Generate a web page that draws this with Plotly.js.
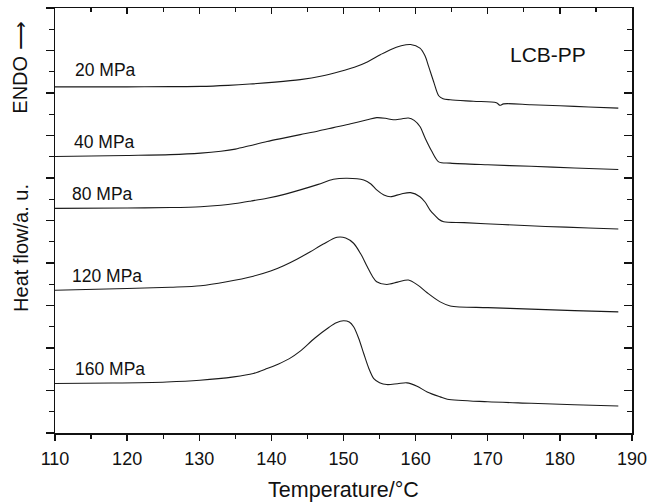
<!DOCTYPE html>
<html>
<head>
<meta charset="utf-8">
<script src="https://cdn.plot.ly/plotly-3.0.1.min.js"></script>
<style>html,body{margin:0;padding:0;background:#fff;}#chart{width:648px;height:504px;}</style>
</head>
<body>
<div id="chart"></div>
<script>
// Temperature (°C) and heat flow (a.u., curves stacked with offsets as in the figure)
const t20  = [110,120,126,130.2,134,137,140.5,144,147,149.5,151.5,153.3,155.1,156.5,158,159.3,160.6,161.3,161.8,162.5,163.2,163.8,164.8,168,171.2,171.7,172.2,176,180,184,188.1];
const hf20 = [16.29,16.29,16.30,16.31,16.36,16.42,16.51,16.63,16.80,17.01,17.21,17.46,17.80,18.04,18.22,18.28,18.11,17.75,17.25,16.53,15.87,15.73,15.68,15.61,15.54,15.42,15.49,15.45,15.40,15.34,15.29];

const t40  = [110,120,126,130.2,133,135,137,139.4,142,144,146.5,148.6,151,153.3,154.6,155.8,156.9,158,159.0,159.8,160.6,161.3,162.2,163.2,164.8,170,176,182,188.1];
const hf40 = [13.01,13.06,13.10,13.17,13.26,13.36,13.52,13.72,13.90,14.04,14.21,14.37,14.55,14.74,14.84,14.81,14.74,14.78,14.82,14.71,14.42,13.89,13.28,12.76,12.70,12.62,12.55,12.47,12.40];

const t80  = [110,120,126,130.2,133,135,137.2,139.4,141.8,144,146.5,148.6,150.5,152.8,153.8,154.6,155.6,156.5,158,159.3,160.6,161.3,162.0,162.6,163.2,163.9,166.7,172,178,184,188.1];
const hf80 = [10.57,10.59,10.61,10.65,10.72,10.80,10.92,11.05,11.23,11.44,11.70,11.94,11.99,11.91,11.72,11.44,11.20,11.12,11.25,11.31,11.12,10.87,10.49,10.26,10.06,9.94,9.90,9.81,9.72,9.65,9.60];

const t120  = [110,120,126,130.2,133.8,137.5,139.9,141.7,143.6,145.4,147.2,149.1,150.3,151.4,152.4,153.3,154.0,154.6,156.0,157.5,159.0,160.3,161.6,163.4,164.8,170,176,182,188.1];
const hf120 = [6.72,6.80,6.86,6.93,7.12,7.38,7.62,7.87,8.19,8.53,8.89,9.21,9.18,8.93,8.42,7.82,7.38,7.12,6.99,7.10,7.20,6.96,6.60,6.17,5.98,5.90,5.83,5.76,5.70];

const t160  = [110,118,125.5,130.1,134.8,137.5,139.4,141,142.5,144,146,148,149,150.0,150.8,151.4,152.1,152.8,153.5,154.2,155,156.0,157.5,158.8,160.2,161.6,163.4,164.4,170,176,182,188.1];
const hf160 = [2.33,2.35,2.40,2.48,2.64,2.80,3.03,3.25,3.50,3.85,4.46,4.98,5.19,5.28,5.22,5.00,4.46,3.74,3.05,2.56,2.37,2.28,2.32,2.36,2.20,1.93,1.70,1.59,1.47,1.40,1.33,1.27];

const labels = ['20 MPa','40 MPa','80 MPa','120 MPa','160 MPa'];
const labelX = [112.5,112.4,112.1,112.1,112.5];
const labelY = [17.09,13.71,11.25,7.38,2.99];

const xTickVals = [110,120,130,140,150,160,170,180,190];
const xTickText = ['110','120','130','140','150','160','170','180','190'];

const FONT = 'Liberation Sans, Arial, sans-serif';
const lineStyle = {color:'#1a1a1a', width:1.1, shape:'spline', smoothing:0.85};

const series = [[t20,hf20],[t40,hf40],[t80,hf80],[t120,hf120],[t160,hf160]];
const traces = series.map((s,i)=>({
  x:s[0], y:s[1], type:'scatter', mode:'lines', line:lineStyle,
  name:labels[i], showlegend:false, hoverinfo:'skip',
  xaxis: i===4 ? 'x2' : 'x', yaxis: i===4 ? 'y2' : 'y'
}));

const annotations = labels.map((l,i)=>({
  x:labelX[i], y:labelY[i], xref:'x', yref:'y', text:l, showarrow:false,
  xanchor:'left', yanchor:'middle', font:{family:FONT, size:17.5, color:'#111'}
}));
annotations.push({x:178.3, y:17.81, xref:'x', yref:'y', text:'LCB-PP', showarrow:false,
  xanchor:'center', yanchor:'middle', font:{family:FONT, size:21, color:'#111'}});
annotations.push({x:-0.060, y:0.4364, xref:'paper', yref:'paper', text:'Heat flow/a. u.', showarrow:false,
  textangle:-90, xanchor:'center', yanchor:'middle', font:{family:FONT, size:20, color:'#111'}});
annotations.push({x:-0.060, y:0.8605, xref:'paper', yref:'paper', text:'ENDO \u27F6', showarrow:false,
  textangle:-90, xanchor:'center', yanchor:'middle', font:{family:FONT, size:20, color:'#111'}});

const layout = {
  width:648, height:504,
  margin:{l:55, r:16, t:8, b:71},
  paper_bgcolor:'#fff', plot_bgcolor:'#fff',
  font:{family:FONT, color:'#111'},
  xaxis:{
    range:[110,190], tickvals:xTickVals, ticktext:xTickText,
    ticks:'outside', ticklen:6, tickwidth:1.4, tickcolor:'#111', ticklabelstandoff:3,
    showline:true, linewidth:1.5, linecolor:'#111', showgrid:false, zeroline:false,
    minor:{ticks:'outside', ticklen:4, tickwidth:1.2, dtick:5, tick0:110, tickcolor:'#111', showgrid:false},
    tickfont:{family:FONT, size:18, color:'#111'},
    title:{text:'Temperature/°C', font:{family:FONT, size:21.5, color:'#111'}, standoff:14}
  },
  xaxis2:{
    range:[110,190], overlaying:'x', side:'top', anchor:'y', dtick:10, tick0:110,
    ticks:'inside', ticklen:6, tickwidth:1.4, tickcolor:'#111', showticklabels:false,
    showline:true, linewidth:1.5, linecolor:'#111', showgrid:false, zeroline:false,
    minor:{ticks:'inside', ticklen:4, tickwidth:1.2, dtick:5, tick0:110, tickcolor:'#111', showgrid:false}
  },
  yaxis:{
    range:[0,20], dtick:2, tick0:0, showticklabels:false,
    ticks:'outside', ticklen:8, tickwidth:1.4, tickcolor:'#111',
    showline:true, linewidth:1.5, linecolor:'#111', showgrid:false, zeroline:false,
    minor:{ticks:'outside', ticklen:5, tickwidth:1.2, dtick:1, tick0:0, tickcolor:'#111', showgrid:false}
  },
  yaxis2:{
    range:[0,20], dtick:2, tick0:0, overlaying:'y', side:'right', anchor:'x', showticklabels:false,
    ticks:'inside', ticklen:8, tickwidth:1.4, tickcolor:'#111',
    showline:true, linewidth:1.5, linecolor:'#111', showgrid:false, zeroline:false,
    minor:{ticks:'inside', ticklen:5, tickwidth:1.2, dtick:1, tick0:0, tickcolor:'#111', showgrid:false}
  },
  annotations:annotations,
  showlegend:false
};

Plotly.newPlot('chart', traces, layout, {staticPlot:true, displayModeBar:false});
</script>
</body>
</html>
